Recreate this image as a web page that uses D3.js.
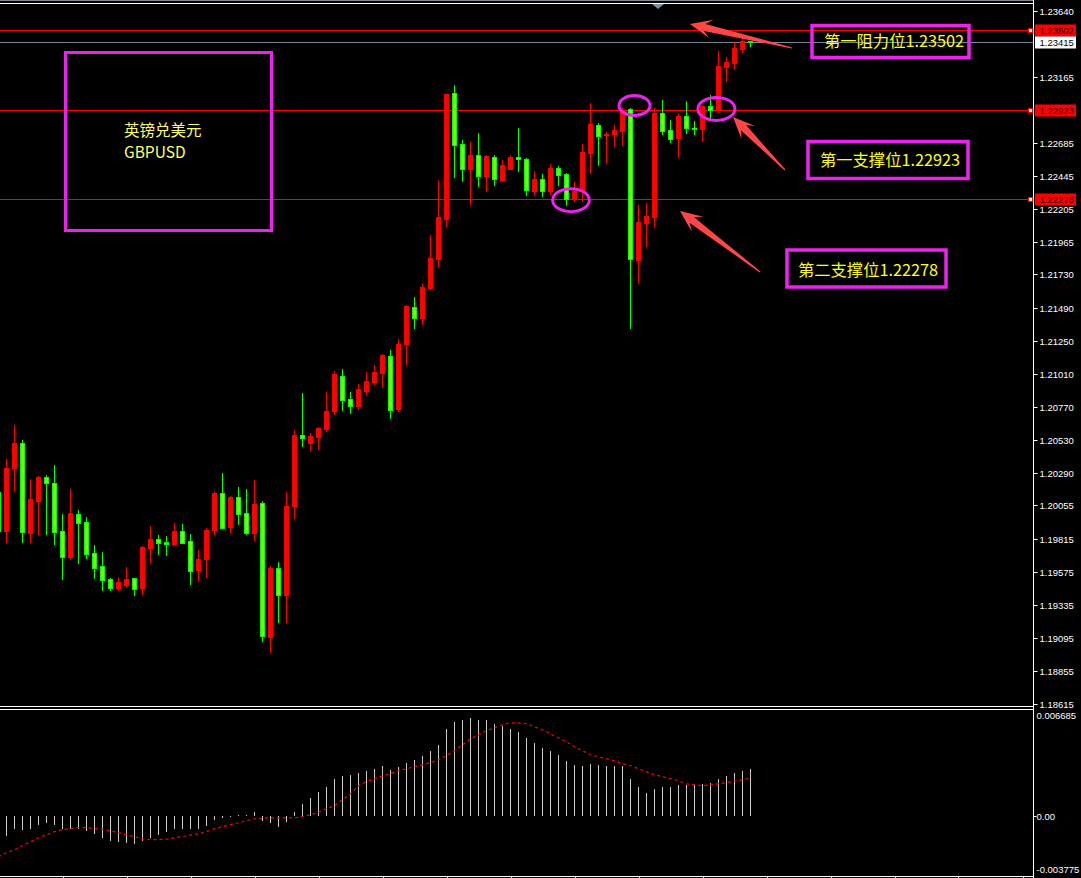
<!DOCTYPE html>
<html><head><meta charset="utf-8">
<script src="https://cdn.jsdelivr.net/npm/d3@7"></script>
<style>html,body{margin:0;padding:0;background:#000;overflow:hidden}</style>
</head><body>
<svg id="c" width="1081" height="878"></svg>
<script>
// ---------- DATA ----------
const opens = [
1.20153,1.19872,1.20329,1.20508,1.19857,1.20089,1.20261,1.20218,1.19870,1.19683,
1.19993,1.19935,1.19710,1.19616,1.19522,1.19459,1.19480,1.19529,1.19459,1.19749,
1.19812,1.19790,1.19778,1.19870,1.19797,1.19589,1.19667,1.19877,1.20145,1.19901,
1.20116,1.20000,1.19857,1.20073,1.19103,1.19601,1.19408,1.20053,1.20566,1.20510,
1.20553,1.20611,1.20740,1.20994,1.20827,1.20778,1.20887,1.20952,1.21018,1.21139,
1.20754,1.21226,1.21494,1.21416,1.21632,1.21842,1.22132,1.23046,1.22676,1.22497,
1.22596,1.22446,1.22582,1.22417,1.22497,1.22582,1.22567,1.22337,1.22422,1.22337,
1.22502,1.22458,1.22279,1.22337,1.22613,1.22814,1.22739,1.22751,1.22770,1.22927,
1.21835,1.22105,1.22149,1.22898,1.22777,1.22722,1.22877,1.22794,1.22785,1.22951,
1.22922,1.23236,1.23263,1.23365,1.23423];
const highs = [
1.20240,1.20390,1.20638,1.20530,1.20245,1.20269,1.20276,1.20348,1.19993,1.20174,
1.20022,1.19971,1.19768,1.19717,1.19529,1.19536,1.19609,1.19532,1.19758,1.19906,
1.19841,1.19833,1.19928,1.19920,1.19848,1.19732,1.19889,1.20160,1.20290,1.20124,
1.20189,1.20174,1.20240,1.20087,1.19616,1.19645,1.20153,1.20602,1.20870,1.20580,
1.20624,1.20878,1.21030,1.21044,1.20878,1.20936,1.21023,1.21073,1.21150,1.21182,
1.21262,1.21508,1.21566,1.21661,1.22016,1.22415,1.23040,1.23104,1.22705,1.22690,
1.22756,1.22596,1.22596,1.22560,1.22596,1.22792,1.22574,1.22480,1.22458,1.22531,
1.22516,1.22466,1.22403,1.22676,1.22973,1.22828,1.22763,1.22814,1.22937,1.22935,
1.22234,1.22248,1.22935,1.22995,1.22850,1.22893,1.22988,1.22843,1.22956,1.23031,
1.23350,1.23307,1.23415,1.23442,1.23425];
const lows = [
1.19804,1.19792,1.20162,1.19792,1.19792,1.19850,1.19850,1.19778,1.19524,1.19669,
1.19640,1.19676,1.19531,1.19444,1.19444,1.19444,1.19473,1.19408,1.19415,1.19640,
1.19705,1.19698,1.19775,1.19782,1.19488,1.19517,1.19538,1.19850,1.19890,1.19865,
1.19923,1.19850,1.19807,1.19074,1.18995,1.19212,1.19212,1.19966,1.20488,1.20452,
1.20467,1.20597,1.20720,1.20749,1.20728,1.20757,1.20858,1.20938,1.20916,1.20691,
1.20740,1.21081,1.21344,1.21373,1.21624,1.21786,1.22083,1.22439,1.22410,1.22243,
1.22373,1.22337,1.22381,1.22410,1.22494,1.22482,1.22308,1.22308,1.22301,1.22316,
1.22381,1.22236,1.22265,1.22265,1.22468,1.22526,1.22540,1.22656,1.22669,1.21340,
1.21666,1.21938,1.22072,1.22751,1.22690,1.22584,1.22758,1.22751,1.22700,1.22867,
1.22908,1.23135,1.23222,1.23343,1.23389];
const closes = [
1.19870,1.20327,1.20508,1.19865,1.20102,1.20261,1.20216,1.19865,1.19683,1.20000,
1.19930,1.19705,1.19604,1.19517,1.19459,1.19500,1.19522,1.19451,1.19754,1.19812,
1.19785,1.19778,1.19870,1.19785,1.19582,1.19667,1.19877,1.20145,1.19894,1.20116,
1.19995,1.19857,1.20066,1.19111,1.19601,1.19408,1.20051,1.20566,1.20546,1.20559,
1.20617,1.20740,1.21008,1.20822,1.20778,1.20899,1.20957,1.21023,1.21146,1.20749,
1.21226,1.21501,1.21416,1.21639,1.21849,1.22147,1.23038,1.22671,1.22497,1.22596,
1.22446,1.22589,1.22424,1.22524,1.22582,1.22569,1.22345,1.22422,1.22337,1.22502,
1.22453,1.22279,1.22337,1.22618,1.22821,1.22736,1.22751,1.22777,1.22922,1.21844,
1.22112,1.22154,1.22901,1.22772,1.22714,1.22879,1.22794,1.22785,1.22951,1.22922,
1.23241,1.23270,1.23372,1.23423,1.23415];

const macdHist = [
-0.00150,-0.00130,-0.00080,-0.00092,-0.00086,-0.00061,-0.00048,-0.00061,-0.00086,-0.00086,
-0.00086,-0.00098,-0.00117,-0.00142,-0.00161,-0.00167,-0.00173,-0.00180,-0.00161,-0.00142,
-0.00123,-0.00105,-0.00086,-0.00080,-0.00086,-0.00086,-0.00067,-0.00029,-0.00017,-0.00004,
0.00006,0.00006,0.00025,-0.00036,-0.00048,-0.00073,-0.00042,0.00025,0.00075,0.00113,
0.00150,0.00182,0.00232,0.00251,0.00257,0.00269,0.00282,0.00294,0.00313,0.00288,
0.00307,0.00332,0.00351,0.00376,0.00407,0.00445,0.00545,0.00589,0.00601,0.00614,
0.00601,0.00601,0.00576,0.00564,0.00545,0.00526,0.00489,0.00457,0.00426,0.00407,
0.00382,0.00344,0.00319,0.00313,0.00326,0.00319,0.00313,0.00313,0.00313,0.00232,
0.00182,0.00144,0.00169,0.00182,0.00182,0.00194,0.00194,0.00194,0.00200,0.00207,
0.00232,0.00251,0.00269,0.00282,0.00294];
const macdSignal = [
-0.00257,-0.00232,-0.00213,-0.00188,-0.00163,-0.00138,-0.00119,-0.00100,-0.00088,-0.00081,
-0.00075,-0.00075,-0.00081,-0.00085,-0.00094,-0.00106,-0.00119,-0.00131,-0.00144,-0.00150,
-0.00150,-0.00147,-0.00138,-0.00131,-0.00122,-0.00113,-0.00100,-0.00081,-0.00069,-0.00056,
-0.00044,-0.00031,-0.00019,-0.00016,-0.00013,-0.00013,-0.00013,-0.00013,-0.00006,0.00006,
0.00022,0.00044,0.00063,0.00100,0.00138,0.00188,0.00213,0.00232,0.00250,0.00263,
0.00282,0.00294,0.00307,0.00319,0.00332,0.00351,0.00376,0.00407,0.00444,0.00482,
0.00507,0.00532,0.00551,0.00570,0.00582,0.00582,0.00576,0.00557,0.00538,0.00513,
0.00488,0.00463,0.00432,0.00407,0.00382,0.00369,0.00357,0.00344,0.00326,0.00313,
0.00294,0.00275,0.00257,0.00244,0.00232,0.00219,0.00200,0.00194,0.00188,0.00194,
0.00200,0.00207,0.00219,0.00225,0.00238];

const priceTicks = [1.23640,1.23165,1.22685,1.22445,1.22205,1.21965,1.21730,1.21490,1.21250,1.21010,
  1.20770,1.20530,1.20290,1.20055,1.19815,1.19575,1.19335,1.19095,1.18855,1.18615];
const levelPrices = [1.23502, 1.22923, 1.22278];
const lastPrice = 1.23415;
const macdMax = 0.006685, macdMin = -0.003775;

const boxLabels = ["第一阻力位1.23502", "第一支撑位1.22923", "第二支撑位1.22278"];
const titleLines = ["英镑兑美元", "GBPUSD"];
// annotation anchors in data terms: [candle index, price]
const ellipseCenters = [[79.5, 1.22955], [89.74, 1.22930], [71.56, 1.22268]];
const arrowTips  = [[86.44, 1.23546], [91.81, 1.22872], [85.19, 1.22190]];
const arrowTails = [[99.19, 1.23372], [98.31, 1.22487], [95.19, 1.21748]];

// ---------- SETUP ----------
const W = 1081, H = 878, AX = 1033.5;
const svg = d3.select('#c');
svg.append('rect').attr('width', W).attr('height', H).attr('fill', '#000');

const x = d3.scaleLinear().domain([0, 100]).range([-1.5, 798.5]);
const y = d3.scaleLinear().domain([1.18615, 1.23640]).range([704, 11]);
const ym = d3.scaleLinear().domain([macdMin, macdMax]).range([876, 709]);

const defs = svg.append('defs');
defs.append('clipPath').attr('id', 'pclip').append('rect').attr('x', 0).attr('y', 4).attr('width', 1033).attr('height', 702);
defs.append('clipPath').attr('id', 'mclip').append('rect').attr('x', 0).attr('y', 710).attr('width', 1033).attr('height', 166);

// frame lines
svg.append('line').attr('x1', 0).attr('x2', AX).attr('y1', 0.5).attr('y2', 0.5).attr('stroke', '#7f8a96');
svg.append('line').attr('x1', 0).attr('x2', AX).attr('y1', 3.5).attr('y2', 3.5).attr('stroke', '#fff');
svg.append('line').attr('x1', 0).attr('x2', AX).attr('y1', 706.5).attr('y2', 706.5).attr('stroke', '#fff');
svg.append('line').attr('x1', 0).attr('x2', AX).attr('y1', 709.5).attr('y2', 709.5).attr('stroke', '#fff');
svg.append('line').attr('x1', 0).attr('x2', AX).attr('y1', 876.5).attr('y2', 876.5).attr('stroke', '#fff');
svg.append('line').attr('x1', AX).attr('x2', AX).attr('y1', 0).attr('y2', H).attr('stroke', '#fff');
// chart shift marker
svg.append('path').attr('d', 'M652,4 L664,4 L658,9 Z').attr('fill', '#7a8ea0');

const pg = svg.append('g').attr('clip-path', 'url(#pclip)');

// level lines
levelPrices.forEach(p => {
  const yy = Math.round(y(p)) + 0.5;
  pg.append('line').attr('x1', 0).attr('x2', 1028).attr('y1', yy).attr('y2', yy).attr('stroke', '#ff0000').attr('stroke-width', 1);
});
{
  const yy = Math.round(y(lastPrice)) + 0.5;
  pg.append('line').attr('x1', 0).attr('x2', 1033).attr('y1', yy).attr('y2', yy).attr('stroke', '#778899');
}

// candles
const candles = opens.map((o, i) => ({i, o, h: highs[i], l: lows[i], c: closes[i]}));
const cg = pg.append('g');
candles.forEach(d => {
  const up = d.c >= d.o;
  const cx = x(d.i);
  const col = up ? '#ff0000' : '#00ff00';
  const wt = Math.round(y(d.h)), wb = Math.round(y(d.l)) + 1;
  cg.append('rect').attr('x', cx - 0.5).attr('y', wt).attr('width', 1).attr('height', Math.max(1, wb - wt)).attr('fill', col);
  const bt = Math.round(y(Math.max(d.o, d.c)));
  const bb = Math.round(y(Math.min(d.o, d.c)));
  const bh = Math.max(1, bb - bt + 1);
  cg.append('rect').attr('x', cx - 2.5).attr('y', bt).attr('width', 5).attr('height', bh).attr('fill', col);
  if (!up && bh > 2) {
    cg.append('rect').attr('x', cx - 1.5).attr('y', bt + 1).attr('width', 3).attr('height', bh - 2).attr('fill', '#80ff00');
  }
});

// annotations: ellipses
const ann = pg.append('g');
const radii = [[15.5, 10], [18.5, 11.5], [18.3, 11.5]];
ellipseCenters.forEach((c, i) => {
  ann.append('ellipse').attr('cx', x(c[0])).attr('cy', y(c[1]))
    .attr('rx', radii[i][0]).attr('ry', radii[i][1])
    .attr('fill', 'none').attr('stroke', '#ee22ee').attr('stroke-width', 3);
});
// arrows
function arrowPts(tip, tail) {
  const dx = tail[0] - tip[0], dy = tail[1] - tip[1];
  const L = Math.hypot(dx, dy), ux = dx / L, uy = dy / L, px = -uy, py = ux;
  const hl = 22, hw = 9.5, notch = 15, sw = 3.6, tw = 0.6;
  const P = (a, b) => [tip[0] + ux * a + px * b, tip[1] + uy * a + py * b];
  const pts = [P(0, 0), P(hl, hw), P(notch, sw), [tail[0] + px * tw, tail[1] + py * tw],
    [tail[0] - px * tw, tail[1] - py * tw], P(notch, -sw), P(hl, -hw)];
  return pts.map(p => p.join(',')).join(' ');
}
arrowTips.forEach((t, i) => {
  const tip = [x(t[0]), y(t[1])];
  const tail = [x(arrowTails[i][0]), y(arrowTails[i][1])];
  svg.append('polygon').attr('points', arrowPts(tip, tail)).attr('fill', '#ff4646');
});

// text boxes
const magenta = '#ee22ee';
svg.append('rect').attr('x', 65.5).attr('y', 52.5).attr('width', 206).attr('height', 178)
  .attr('fill', 'none').attr('stroke', magenta).attr('stroke-width', 3);
titleLines.forEach((t, i) => {
  svg.append('text').attr('x', 124).attr('y', 136 + i * 22).text(t)
    .attr('fill', '#ffff66').attr('font-family', '"Noto Sans CJK SC","Noto Sans",sans-serif').attr('font-size', 15.5);
});
const boxes = [
  {x: 812, y: 25.5, w: 157, h: 32, tx: 824, ty: 47},
  {x: 808, y: 141.5, w: 160, h: 37, tx: 820, ty: 166},
  {x: 787, y: 250, w: 159, h: 37, tx: 798, ty: 276}
];
boxes.forEach((b, i) => {
  svg.append('rect').attr('x', b.x).attr('y', b.y).attr('width', b.w).attr('height', b.h)
    .attr('fill', '#000').attr('fill-opacity', 0).attr('stroke', magenta).attr('stroke-width', 3.5);
  svg.append('text').attr('x', b.tx).attr('y', b.ty).text(boxLabels[i])
    .attr('fill', '#ffff00').attr('font-family', '"Noto Sans CJK SC",sans-serif').attr('font-size', 16.3);
});

// ---------- PRICE AXIS ----------
const axg = svg.append('g').attr('font-family', '"Liberation Sans",Arial,sans-serif').attr('font-size', 9.5);
priceTicks.forEach(p => {
  const yy = Math.round(y(p)) + 0.5;
  axg.append('line').attr('x1', AX).attr('x2', AX + 4).attr('y1', yy).attr('y2', yy).attr('stroke', '#fff');
  axg.append('text').attr('x', 1039.5).attr('y', yy).attr('dy', '0.35em').text(p.toFixed(5)).attr('fill', '#fff');
});
// level labels
levelPrices.forEach(p => {
  const yy = Math.round(y(p)) + 0.5;
  svg.append('rect').attr('x', 1028.5).attr('y', yy - 2).attr('width', 4).attr('height', 4)
    .attr('fill', '#fff').attr('stroke', '#ff0000').attr('stroke-width', 1);
  svg.append('rect').attr('x', 1035).attr('y', yy - 6).attr('width', 41).attr('height', 12).attr('fill', '#ff0000');
  svg.append('text').attr('x', 1039.5).attr('y', yy).attr('dy', '0.35em').text(p.toFixed(5))
    .attr('fill', '#3a0000').attr('font-family', '"Liberation Sans",Arial,sans-serif').attr('font-size', 9.5);
});
{
  const yy = Math.round(y(lastPrice)) + 0.5;
  svg.append('rect').attr('x', 1035).attr('y', yy - 6).attr('width', 41).attr('height', 12).attr('fill', '#fff');
  svg.append('text').attr('x', 1039.5).attr('y', yy).attr('dy', '0.35em').text(lastPrice.toFixed(5))
    .attr('fill', '#000').attr('font-family', '"Liberation Sans",Arial,sans-serif').attr('font-size', 9.5);
}

// ---------- MACD ----------
const mg = svg.append('g').attr('clip-path', 'url(#mclip)');
const y0 = Math.round(ym(0));
mg.selectAll('rect.h').data(macdHist).enter().append('rect')
  .attr('x', (d, i) => x(i) - 0.5)
  .attr('y', d => d >= 0 ? Math.round(ym(d)) : y0)
  .attr('width', 1)
  .attr('height', d => Math.max(1, Math.abs(Math.round(ym(d)) - y0)))
  .attr('fill', '#c8c8c8');
mg.append('path').datum(macdSignal)
  .attr('d', d3.line().x((d, i) => x(i)).y(d => ym(d)))
  .attr('fill', 'none').attr('stroke', '#ff0000').attr('stroke-width', 1.2).attr('stroke-dasharray', '3,3');

const mAx = svg.append('g').attr('font-family', '"Liberation Sans",Arial,sans-serif').attr('font-size', 9.5).attr('fill', '#fff');
mAx.append('text').attr('x', 1036.5).attr('y', ym(macdMax) + 7).attr('dy', '0.35em').text(macdMax.toFixed(6));
mAx.append('line').attr('x1', AX).attr('x2', AX + 3).attr('y1', y0 + 0.5).attr('y2', y0 + 0.5).attr('stroke', '#fff');
mAx.append('text').attr('x', 1036.5).attr('y', y0 + 0.5).attr('dy', '0.35em').text('0.00');
mAx.append('text').attr('x', 1036.5).attr('y', ym(macdMin) - 6).attr('dy', '0.35em').text(macdMin.toFixed(6));

// bottom time ticks
d3.range(8, 130, 8).forEach(k => {
  const xx = Math.round(x(k)) + 0.5;
  svg.append('line').attr('x1', xx).attr('x2', xx).attr('y1', 876).attr('y2', 878).attr('stroke', '#fff');
});
</script>
</body></html>
